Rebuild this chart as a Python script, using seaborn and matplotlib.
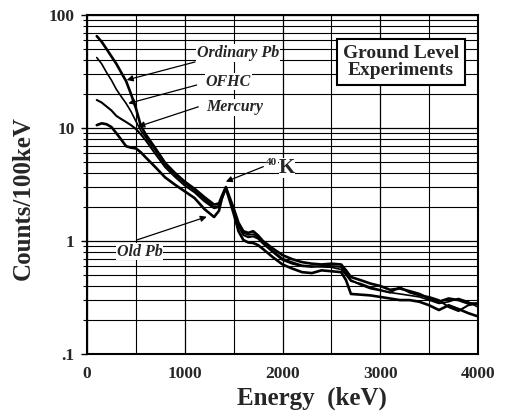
import numpy as np
import pandas as pd
import matplotlib
matplotlib.use("Agg")
import matplotlib.pyplot as plt
import seaborn as sns
from matplotlib.ticker import FixedLocator, FixedFormatter, LogLocator, NullFormatter

energy = [100, 150, 200, 250, 300, 350, 400, 450, 500, 550, 600, 700, 800, 900,
          1000, 1100, 1200, 1300, 1350, 1380, 1420, 1500, 1550, 1600, 1650, 1700,
          1750, 1800, 1900, 2000, 2100, 2200, 2300, 2400, 2500, 2600, 2650, 2700,
          2800, 2900, 3000, 3100, 3200, 3300, 3400, 3500, 3600, 3700, 3800, 3900, 4000]

ordinary_pb = [65, 58, 50, 43, 37, 31, 26, 20, 15, 10.5, 8.8, 6.6, 4.9, 4.0,
               3.35, 2.9, 2.45, 2.1, 2.15, 2.5, 3.0, 1.95, 1.45, 1.22, 1.18, 1.22,
               1.12, 1.0, 0.86, 0.75, 0.69, 0.65, 0.63, 0.62, 0.63, 0.62, 0.55, 0.48,
               0.45, 0.42, 0.40, 0.37, 0.38, 0.36, 0.34, 0.31, 0.29, 0.31, 0.30, 0.28, 0.28]

ofhc = [42, 37, 31, 26.5, 22, 19, 16.5, 14, 11.5, 9.5, 8.3, 6.3, 4.7, 3.85,
        3.25, 2.8, 2.35, 2.0, 2.05, 2.4, 2.95, 1.9, 1.4, 1.18, 1.13, 1.15,
        1.08, 0.97, 0.82, 0.70, 0.65, 0.61, 0.60, 0.59, 0.585, 0.56, 0.50, 0.44,
        0.42, 0.39, 0.37, 0.35, 0.34, 0.33, 0.32, 0.30, 0.28, 0.29, 0.31, 0.29, 0.26]

mercury = [17.7, 16.8, 15.5, 14.3, 12.8, 12.0, 11.3, 10.6, 9.8, 8.8, 7.8, 5.9, 4.5, 3.7,
           3.1, 2.7, 2.25, 1.95, 2.0, 2.35, 2.95, 1.85, 1.35, 1.13, 1.08, 1.1,
           1.05, 0.95, 0.80, 0.68, 0.63, 0.60, 0.59, 0.60, 0.60, 0.59, 0.52, 0.45,
           0.41, 0.38, 0.365, 0.35, 0.39, 0.35, 0.33, 0.32, 0.30, 0.26, 0.24, 0.27, 0.28]

old_pb = [10.6, 11.0, 10.8, 10.2, 9.0, 7.9, 6.9, 6.7, 6.6, 6.1, 5.5, 4.5, 3.65, 3.15,
          2.75, 2.4, 1.92, 1.63, 1.85, 2.4, 2.95, 1.75, 1.22, 1.02, 0.97, 0.96,
          0.92, 0.85, 0.72, 0.62, 0.57, 0.53, 0.52, 0.55, 0.54, 0.53, 0.45, 0.34,
          0.335, 0.33, 0.32, 0.31, 0.30, 0.30, 0.29, 0.27, 0.245, 0.27, 0.25, 0.23, 0.215]

series_names = ["Ordinary Pb", "OFHC", "Mercury", "Old Pb"]
series_values = [ordinary_pb, ofhc, mercury, old_pb]
series_widths = [1.9, 1.2, 1.5, 1.9]

y_ticks = [0.1, 1, 10, 100]
y_tick_labels = [".1", "1", "10", "100"]
x_ticks = [0, 1000, 2000, 3000, 4000]
x_tick_labels = ["0", "1000", "2000", "3000", "4000"]

sns.set_theme(style="white")
plt.rcParams["font.family"] = ["Liberation Serif", "DejaVu Serif"]

fig = plt.figure(figsize=(5.08, 4.12), dpi=100)
ax = fig.add_axes([87/508, 1 - 354/412, (478 - 87)/508, (354 - 15)/412])

frames = []
for name, vals in zip(series_names, series_values):
    frames.append(pd.DataFrame({"Energy": energy, "Counts": vals, "Sample": name}))
df = pd.concat(frames, ignore_index=True)

for name, lw in zip(series_names, series_widths):
    sns.lineplot(data=df[df["Sample"] == name], x="Energy", y="Counts",
                 color="black", linewidth=lw, ax=ax, legend=False, zorder=3)

ax.set_yscale("log")
ax.set_xlim(0, 4000)
ax.set_ylim(0.1, 100)

ax.yaxis.set_major_locator(FixedLocator(y_ticks))
ax.yaxis.set_major_formatter(FixedFormatter(y_tick_labels))
ax.yaxis.set_minor_locator(LogLocator(base=10, subs=np.arange(2, 10)))
ax.yaxis.set_minor_formatter(NullFormatter())
ax.xaxis.set_major_locator(FixedLocator(x_ticks))
ax.xaxis.set_major_formatter(FixedFormatter(x_tick_labels))
ax.xaxis.set_minor_locator(FixedLocator([500, 1500, 2500, 3500]))

ax.grid(True, which="major", axis="both", color="black", linewidth=0.9)
ax.grid(True, which="minor", axis="both", color="black", linewidth=0.8)
for sp in ax.spines.values():
    sp.set_color("black")
    sp.set_linewidth(1.5)

ax.tick_params(axis="y", which="major", left=True, length=4, width=1, color="black",
               labelsize=12.5, pad=5)
ax.tick_params(axis="y", which="minor", left=True, length=3, width=0.8, color="black")
ax.tick_params(axis="x", which="both", bottom=False, labelsize=12.5, pad=3)
for lab in ax.get_xticklabels() + ax.get_yticklabels():
    lab.set_fontweight("bold")

ax.set_xlabel("Energy  (keV)", fontsize=18, fontweight="bold")
ax.xaxis.label.set_va("center")
ax.xaxis.set_label_coords((312 - 87) / 391, (354 - 398) / 339)
ax.set_ylabel("Counts/100keV", fontsize=18, fontweight="bold")
ax.yaxis.label.set_va("center")
ax.yaxis.set_label_coords((23 - 87) / 391, (354 - 198) / 339)

lab_kw = dict(fontsize=11.5, fontweight="bold", style="italic", ha="center", va="center",
              zorder=5, bbox=dict(facecolor="white", edgecolor="none", pad=0.5))
arrow_kw = dict(arrowstyle="-|>", color="black", lw=0.9, mutation_scale=9,
                shrinkA=0, shrinkB=0)

ax.annotate("", xy=(406, 26.6), xytext=(1105, 38.4), arrowprops=arrow_kw, zorder=4)
ax.text(1545, 46.1, "Ordinary Pb", **lab_kw)
ax.annotate("", xy=(423, 16.5), xytext=(1122, 24.0), arrowprops=arrow_kw, zorder=4)
ax.text(1446, 25.7, "OFHC", **lab_kw)
ax.annotate("", xy=(525, 10.3), xytext=(1139, 15.4), arrowprops=arrow_kw, zorder=4)
ax.text(1514, 15.2, "Mercury", **lab_kw)
ax.annotate("", xy=(1225, 1.64), xytext=(508, 1.02), arrowprops=arrow_kw, zorder=4)
ax.text(542, 0.804, "Old Pb", **lab_kw)

ax.annotate("", xy=(1420, 3.35), xytext=(1804, 4.55), arrowprops=arrow_kw, zorder=4)
ax.text(1890, 5.0, "40", fontsize=8, fontweight="bold", ha="center", va="center",
        zorder=5, bbox=dict(facecolor="white", edgecolor="none", pad=0.2))
ax.text(2045, 4.43, "K", fontsize=15, fontweight="bold", ha="center", va="center",
        zorder=5, bbox=dict(facecolor="white", edgecolor="none", pad=0.2))

ax.text(3212, 38.4, "Ground Level\nExperiments", fontsize=14, fontweight="bold",
        ha="center", va="center", multialignment="center", linespacing=1.0, zorder=5,
        bbox=dict(facecolor="white", edgecolor="black", linewidth=1.5,
                  boxstyle="square,pad=0.3"))

fig.savefig("out.png", dpi=100)
